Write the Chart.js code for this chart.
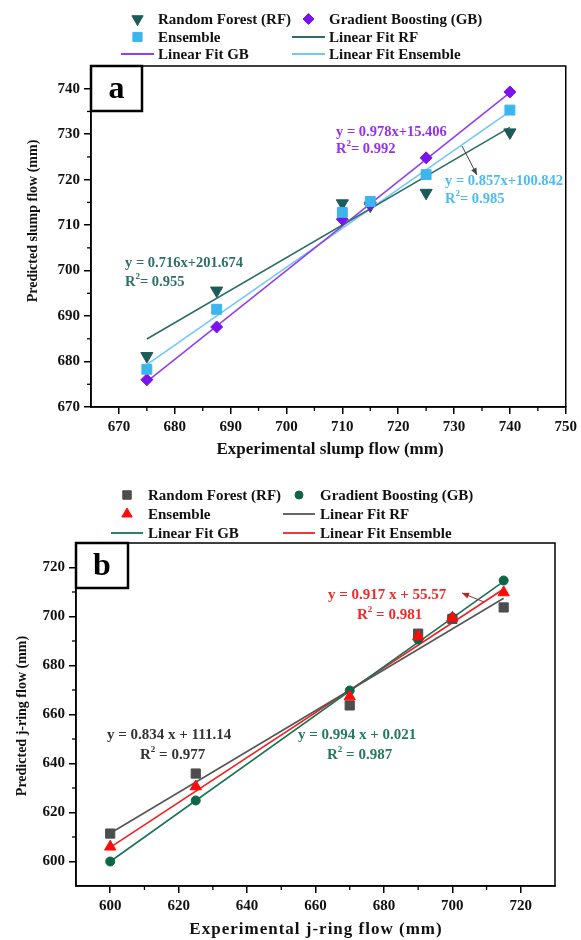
<!DOCTYPE html>
<html>
<head>
<meta charset="utf-8">
<script src="https://cdn.jsdelivr.net/npm/chart.js@4.4.1/dist/chart.umd.min.js"></script>
<style>
  html, body { margin: 0; padding: 0; background: #fff; }
  .panel { position: absolute; left: 0; width: 581px; height: 470px; }
  #wrapA { top: 0; }
  #wrapB { top: 470px; }
</style>
</head>
<body>
<div class="panel" id="wrapA"><canvas id="chartA" width="581" height="470"></canvas></div>
<div class="panel" id="wrapB"><canvas id="chartB" width="581" height="470"></canvas></div>
<script>
const SERIF = '"Liberation Serif", "Times New Roman", serif';

// (a) slump flow, mm
const slumpX = [675, 687.5, 710, 715, 725, 740];
const slumpRF = [681.2, 695.6, 714.8, 714.3, 717.1, 730.4];
const slumpGB = [676.0, 687.6, 711.3, 714.6, 724.8, 739.3];
const slumpEns = [678.3, 691.5, 712.8, 715.2, 721.1, 735.3];
const slumpFitX = [675, 740];
const slumpFitRF = [684.97, 731.51];
const slumpFitGB = [675.56, 739.13];
const slumpFitEns = [679.32, 735.02];
const slumpXTicks = [670, 680, 690, 700, 710, 720, 730, 740, 750];
const slumpYTicks = [670, 680, 690, 700, 710, 720, 730, 740];

// (b) j-ring flow, mm
const jringX = [600, 625, 670, 690, 700, 715];
const jringRF = [611.4, 635.9, 663.7, 693.0, 699.0, 703.7];
const jringGB = [600.0, 624.9, 669.8, 690.6, 699.6, 714.7];
const jringEns = [606.0, 630.6, 667.3, 691.8, 699.5, 709.8];
const jringFitX = [600, 715];
const jringFitRF = [611.54, 707.45];
const jringFitGB = [600.0, 714.3];
const jringFitEns = [605.77, 711.23];
const jringXTicks = [600, 620, 640, 660, 680, 700, 720];
const jringYTicks = [600, 620, 640, 660, 680, 700, 720];

function pts(xs, ys) {
  return xs.map((x, i) => ({ x: x, y: ys[i] })).filter(p => p.y != null);
}

// lower order is painted on top: ensemble over GB over RF, fits underneath
function markerSet(label, xs, ys, color, style, radius, order, rotation) {
  return {
    label: label, data: pts(xs, ys), showLine: false, order: order,
    pointStyle: style, pointRadius: radius, pointHoverRadius: radius,
    pointRotation: rotation || 0,
    backgroundColor: color, borderColor: color, borderWidth: 1
  };
}

function fitSet(label, xs, ys, color, order) {
  return {
    label: label, data: pts(xs, ys), showLine: true, order: order,
    borderColor: color, backgroundColor: color, borderWidth: 1.6,
    pointRadius: 0, pointHoverRadius: 0, isFit: true
  };
}

// text with a raised "2" after the R
function drawR2(ctx, x, y, rest, size) {
  ctx.font = 'bold ' + size + 'px ' + SERIF;
  ctx.fillText('R', x, y);
  let w = ctx.measureText('R').width;
  ctx.font = 'bold ' + Math.round(size * 0.6) + 'px ' + SERIF;
  ctx.fillText('2', x + w, y - size * 0.35);
  w += ctx.measureText('2').width;
  ctx.font = 'bold ' + size + 'px ' + SERIF;
  ctx.fillText(rest, x + w, y);
}

function arrow(ctx, x1, y1, x2, y2, color) {
  ctx.save();
  ctx.strokeStyle = color; ctx.fillStyle = color; ctx.lineWidth = 1;
  ctx.beginPath(); ctx.moveTo(x1, y1); ctx.lineTo(x2, y2); ctx.stroke();
  const a = Math.atan2(y2 - y1, x2 - x1), L = 7, W = 3;
  ctx.beginPath();
  ctx.moveTo(x2, y2);
  ctx.lineTo(x2 - L * Math.cos(a) + W * Math.sin(a), y2 - L * Math.sin(a) - W * Math.cos(a));
  ctx.lineTo(x2 - L * Math.cos(a) - W * Math.sin(a), y2 - L * Math.sin(a) + W * Math.cos(a));
  ctx.closePath(); ctx.fill();
  ctx.restore();
}

// frame, minor ticks, legend, panel letter, titles and fit labels
const decorPlugin = {
  id: 'decor',
  afterDraw(chart, args, o) {
    const ctx = chart.ctx, ca = chart.chartArea;
    const xs = chart.scales.x, ys = chart.scales.y;
    ctx.save();

    ctx.strokeStyle = '#000'; ctx.lineWidth = 1.5;
    ctx.strokeRect(ca.left, ca.top, ca.right - ca.left, ca.bottom - ca.top);

    // minor ticks halfway between the labelled ones
    ctx.lineWidth = 1.3;
    const mx = o.xTicks, my = o.yTicks;
    for (let i = 0; i < mx.length - 1; i++) {
      const px = xs.getPixelForValue((mx[i] + mx[i + 1]) / 2);
      ctx.beginPath(); ctx.moveTo(px, ca.bottom); ctx.lineTo(px, ca.bottom + 4); ctx.stroke();
    }
    for (let i = 0; i < my.length - 1; i++) {
      const py = ys.getPixelForValue((my[i] + my[i + 1]) / 2);
      ctx.beginPath(); ctx.moveTo(ca.left, py); ctx.lineTo(ca.left - 4, py); ctx.stroke();
    }

    // legend, two columns
    ctx.textBaseline = 'middle'; ctx.textAlign = 'left';
    chart.data.datasets.forEach((ds, i) => {
      const col = o.legend.cols[i % 2], y = o.legend.rows[Math.floor(i / 2)];
      ctx.fillStyle = ds.borderColor; ctx.strokeStyle = ds.borderColor;
      if (ds.isFit) {
        ctx.lineWidth = 1.8;
        ctx.beginPath(); ctx.moveTo(col.from, y); ctx.lineTo(col.to, y); ctx.stroke();
      } else {
        ctx.lineWidth = 1;
        Chart.helpers.drawPoint(ctx, {
          pointStyle: ds.pointStyle, rotation: ds.pointRotation,
          radius: ds.pointRadius - 0.5, borderWidth: 1
        }, (col.from + col.to) / 2, y);
      }
      ctx.fillStyle = '#111';
      ctx.font = 'bold 15px ' + SERIF;
      ctx.fillText(ds.label, col.text, y + 1);
    });

    // panel letter box
    const b = o.box;
    ctx.fillStyle = '#fff'; ctx.fillRect(b.x, b.y, b.w, b.h);
    ctx.strokeStyle = '#000'; ctx.lineWidth = 2.5;
    ctx.strokeRect(b.x, b.y, b.w, b.h);
    ctx.fillStyle = '#000'; ctx.textAlign = 'center';
    ctx.font = 'bold 32px ' + SERIF;
    ctx.fillText(b.letter, b.x + b.w / 2, b.y + b.h / 2 + 1);

    // axis titles
    ctx.fillStyle = '#111';
    ctx.font = 'bold 17px ' + SERIF;
    if (o.xTitle.spacing) ctx.letterSpacing = o.xTitle.spacing;
    ctx.fillText(o.xTitle.text, o.xTitle.x, o.xTitle.y);
    ctx.letterSpacing = '0px';
    ctx.save();
    ctx.translate(o.yTitle.x, o.yTitle.y);
    ctx.rotate(-Math.PI / 2);
    ctx.font = 'bold 14px ' + SERIF;
    ctx.fillText(o.yTitle.text, 0, 0);
    ctx.restore();

    // fit equations
    ctx.textAlign = 'left';
    o.notes.forEach(n => {
      ctx.fillStyle = n.color;
      ctx.font = 'bold ' + o.noteSize + 'px ' + SERIF;
      ctx.fillText(n.eq, n.x, n.y);
      drawR2(ctx, n.rx, n.ry, n.r2, o.noteSize);
    });
    o.arrows.forEach(a => arrow(ctx, a[0], a[1], a[2], a[3], a[4]));

    ctx.restore();
  }
};

function axis(min, max, ticks, fitFn) {
  return {
    type: 'linear', min: min, max: max,
    afterBuildTicks: s => { s.ticks = ticks.map(v => ({ value: v })); },
    afterFit: fitFn,
    grid: { drawOnChartArea: false, drawTicks: true, tickLength: 7, color: '#000', lineWidth: 1.5 },
    border: { display: true, color: '#000', width: 1.5 },
    ticks: { font: { family: SERIF, size: 15, weight: 'bold' }, color: '#111', padding: 4, maxRotation: 0 }
  };
}

function build(id, area, datasets, sc, decor) {
  return new Chart(document.getElementById(id), {
    type: 'scatter',
    data: { datasets: datasets },
    options: {
      responsive: false, animation: false,
      layout: { padding: { left: 0, top: area.top, right: 581 - area.right, bottom: 0 } },
      plugins: { legend: { display: false }, tooltip: { enabled: false }, decor: decor },
      scales: {
        x: axis(sc.xMin, sc.xMax, sc.xTicks, s => { s.height = 470 - area.bottom; }),
        y: axis(sc.yMin, sc.yMax, sc.yTicks, s => { s.width = area.left; })
      }
    },
    plugins: [decorPlugin]
  });
}

build('chartA', { left: 91, right: 568, top: 66, bottom: 407 }, [
  markerSet('Random Forest (RF)', slumpX, slumpRF, '#1c5b57', 'triangle', 7, 3, 180),
  markerSet('Gradient Boosting (GB)', slumpX, slumpGB, '#7d12f0', 'rectRot', 6, 2),
  markerSet('Ensemble', slumpX, slumpEns, '#3cb4f0', 'rect', 7, 1),
  fitSet('Linear Fit RF', slumpFitX, slumpFitRF, '#2e6e68', 4),
  fitSet('Linear Fit GB', slumpFitX, slumpFitGB, '#9040f0', 5),
  fitSet('Linear Fit Ensemble', slumpFitX, slumpFitEns, '#70c8f6', 6)
], { xMin: 665, xMax: 750, yMin: 670, yMax: 745, xTicks: slumpXTicks, yTicks: slumpYTicks }, {
  xTicks: slumpXTicks, yTicks: slumpYTicks, noteSize: 14.5,
  legend: {
    rows: [19, 37, 54],
    cols: [{ from: 121, to: 154, text: 158 }, { from: 292, to: 325, text: 329 }]
  },
  box: { x: 91, y: 66, w: 51, h: 45, letter: 'a' },
  xTitle: { text: 'Experimental slump flow (mm)', x: 330, y: 450 },
  yTitle: { text: 'Predicted slump flow (mm)', x: 33, y: 221 },
  notes: [
    { eq: 'y = 0.716x+201.674', x: 125, y: 263, rx: 125, ry: 282, r2: '= 0.955', color: '#2f6f69' },
    { eq: 'y = 0.978x+15.406', x: 336, y: 132, rx: 336, ry: 149, r2: '= 0.992', color: '#9430ee' },
    { eq: 'y = 0.857x+100.842', x: 445, y: 181, rx: 445, ry: 199, r2: '= 0.985', color: '#4bbcf3' }
  ],
  arrows: [[462, 146, 477, 175, '#444']]
});

build('chartB', { left: 76, right: 555, top: 73, bottom: 416 }, [
  markerSet('Random Forest (RF)', jringX, jringRF, '#4d4d4d', 'rect', 6.5, 3),
  markerSet('Gradient Boosting (GB)', jringX, jringGB, '#0c6545', 'circle', 4.5, 2),
  markerSet('Ensemble', jringX, jringEns, '#ff0a0a', 'triangle', 6.5, 1),
  fitSet('Linear Fit RF', jringFitX, jringFitRF, '#555555', 4),
  fitSet('Linear Fit GB', jringFitX, jringFitGB, '#1a7353', 5),
  fitSet('Linear Fit Ensemble', jringFitX, jringFitEns, '#f02020', 6)
], { xMin: 590, xMax: 730, yMin: 590, yMax: 730, xTicks: jringXTicks, yTicks: jringYTicks }, {
  xTicks: jringXTicks, yTicks: jringYTicks, noteSize: 15,
  legend: {
    rows: [25, 44, 63],
    cols: [{ from: 111, to: 143, text: 148 }, { from: 283, to: 315, text: 320 }]
  },
  box: { x: 76, y: 73, w: 52, h: 45, letter: 'b' },
  xTitle: { text: 'Experimental j-ring flow (mm)', x: 316, y: 460, spacing: '1px' },
  yTitle: { text: 'Predicted j-ring flow (mm)', x: 22, y: 246 },
  notes: [
    { eq: 'y = 0.834 x + 111.14', x: 107, y: 265, rx: 140, ry: 285, r2: ' = 0.977', color: '#333333' },
    { eq: 'y = 0.994 x + 0.021', x: 298, y: 265, rx: 327, ry: 285, r2: ' = 0.987', color: '#237a5c' },
    { eq: 'y = 0.917 x + 55.57', x: 328, y: 125, rx: 357, ry: 145, r2: ' = 0.981', color: '#f02a2a' }
  ],
  arrows: [[484, 132, 462, 123, '#b02828']]
});
</script>
</body>
</html>
